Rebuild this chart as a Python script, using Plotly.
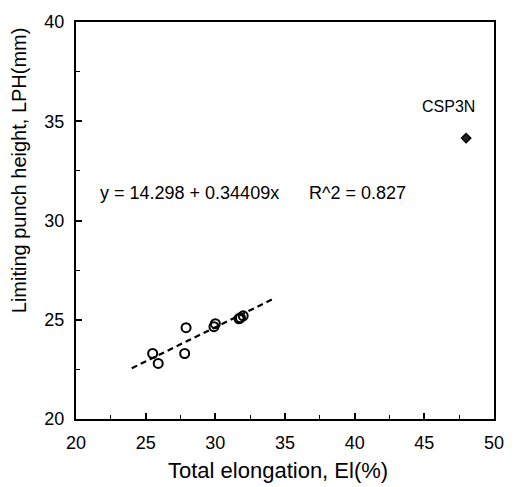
import plotly.graph_objects as go

# Data
elong = [25.5, 25.9, 27.9, 27.8, 30.0, 29.9, 31.7, 32.0, 31.8]
lph = [23.3, 22.8, 24.6, 23.3, 24.8, 24.65, 25.05, 25.2, 25.1]
csp_x = [48.0]
csp_y = [34.15]
csp_label = "CSP3N"
fit_intercept = 14.298
fit_slope = 0.34409
fit_r2 = 0.827
fit_range = [24.0, 34.3]
fit_y = [fit_intercept + fit_slope * v for v in fit_range]

x_ticks = [20, 25, 30, 35, 40, 45, 50]
y_ticks = [20, 25, 30, 35, 40]

FONT = "Liberation Sans, Arial, sans-serif"

fig = go.Figure()
fig.add_trace(go.Scatter(x=fit_range, y=fit_y, mode="lines",
                         line=dict(color="black", width=2.2, dash="6px,4px"),
                         showlegend=False, hoverinfo="skip"))
fig.add_trace(go.Scatter(x=elong, y=lph, mode="markers",
                         marker=dict(symbol="circle-open", size=9, color="black",
                                     line=dict(width=2, color="black")),
                         showlegend=False))
fig.add_trace(go.Scatter(x=csp_x, y=csp_y, mode="markers",
                         marker=dict(symbol="diamond", size=7, color="#222",
                                     line=dict(width=1.5, color="black")),
                         showlegend=False))

fig.add_annotation(x=csp_x[0], y=csp_y[0], text=csp_label, showarrow=False,
                   xanchor="right", yanchor="bottom", xshift=11, yshift=21,
                   font=dict(size=16, color="black", family=FONT))
fig.add_annotation(x=21.6, y=31.4, xref="x", yref="y",
                   text=f"y = {fit_intercept} + {fit_slope}x", showarrow=False,
                   xanchor="left", yanchor="middle",
                   font=dict(size=18, color="black", family=FONT))
fig.add_annotation(x=36.6, y=31.4, xref="x", yref="y",
                   text=f"R^2 = {fit_r2}", showarrow=False,
                   xanchor="left", yanchor="middle",
                   font=dict(size=18, color="black", family=FONT))

W, H = 516, 487
L, R, T, B = 76, 13, 14, 68
pw, ph = W - L - R, H - T - B

# Axis titles as annotations for exact placement (paper coords from pixel targets)
fig.add_annotation(x=(282 - L) / pw, y=(H - B - 472) / ph, xref="paper", yref="paper",
                   text="Total elongation, El(%)", showarrow=False,
                   xanchor="center", yanchor="middle",
                   font=dict(size=22, color="black", family=FONT))
fig.add_annotation(x=(18 - L) / pw, y=(H - B - 165) / ph, xref="paper", yref="paper",
                   text="Limiting punch height, LPH(mm)", showarrow=False,
                   xanchor="center", yanchor="middle",
                   textangle=-90, font=dict(size=20, color="black", family=FONT))

axis_common = dict(showline=True, linecolor="black", linewidth=2, mirror=True,
                   ticks="inside", ticklen=6, tickwidth=1.5, tickcolor="black",
                   showgrid=False, zeroline=False,
                   tickfont=dict(size=18, color="black", family=FONT),
                   minor=dict(ticks="inside", ticklen=4, tickwidth=1, tickcolor="black", dtick=2.5))

fig.update_xaxes(range=[20, 50], tickvals=x_ticks, ticktext=[str(v) for v in x_ticks],
                 ticklabelstandoff=6, **axis_common)
fig.update_yaxes(range=[20, 40], tickvals=y_ticks, ticktext=[str(v) for v in y_ticks],
                 ticklabelstandoff=6, **axis_common)

fig.update_layout(width=W, height=H, margin=dict(l=L, r=R, t=T, b=B),
                  plot_bgcolor="white", paper_bgcolor="white",
                  font=dict(family=FONT, color="black"))

fig.write_html("out.html")
